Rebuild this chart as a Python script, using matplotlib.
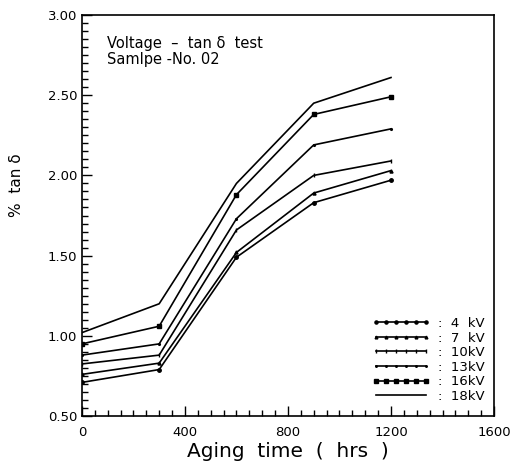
import matplotlib
matplotlib.use("Agg")
import matplotlib.pyplot as plt
from matplotlib.ticker import MultipleLocator

hours = [0, 300, 600, 900, 1200]
labels = [":  4  kV", ":  7  kV", ":  10kV", ":  13kV", ":  16kV", ":  18kV"]
v4 = [0.71, 0.79, 1.49, 1.83, 1.97]
v7 = [0.76, 0.83, 1.52, 1.89, 2.03]
v10 = [0.825, 0.88, 1.66, 2.00, 2.09]
v13 = [0.88, 0.95, 1.73, 2.19, 2.29]
v16 = [0.95, 1.06, 1.88, 2.38, 2.49]
v18 = [1.02, 1.20, 1.95, 2.45, 2.61]
series = [v4, v7, v10, v13, v16, v18]
markers = ["o", "^", "|", ".", "s", None]
msizes = [2.5, 2.2, 3.0, 2.5, 3.5, 0]
xticks = [0, 400, 800, 1200, 1600]
yticks = [0.5, 1.0, 1.5, 2.0, 2.5, 3.0]

fig = plt.figure(figsize=(5.25, 4.67), dpi=100)
ax = fig.add_axes([0.156, 0.109, 0.785, 0.859])

for vals, lab, m, ms in zip(series, labels, markers, msizes):
    ax.plot(hours, vals, color="black", lw=1.2, marker=m, markersize=ms,
            label=lab)

ax.set_xlim(0, 1600)
ax.set_ylim(0.5, 3.0)
ax.set_xticks(xticks)
ax.set_xticklabels([str(t) for t in xticks])
ax.set_yticks(yticks)
ax.set_yticklabels(["%.2f" % t for t in yticks])
ax.xaxis.set_minor_locator(MultipleLocator(50))
ax.yaxis.set_minor_locator(MultipleLocator(0.05))
ax.tick_params(which="both", direction="in", top=False, right=False,
               labelsize=9.5, width=1.0)
ax.tick_params(which="major", length=7)
ax.tick_params(which="minor", length=4)
ax.tick_params(axis="x", which="major", pad=7)
for s in ax.spines.values():
    s.set_linewidth(1.2)

ax.set_xlabel("Aging  time  (  hrs  )", fontsize=14.5)
ax.xaxis.set_label_coords(0.5, -0.065)
ax.set_ylabel("%  tan δ", fontsize=11)
ax.yaxis.set_label_coords(-0.14, 0.575)

ax.text(0.06, 0.93, "Voltage  –  tan δ  test", transform=ax.transAxes,
        fontsize=10.5, va="center", ha="left")
ax.text(0.06, 0.888, "Samlpe -No. 02", transform=ax.transAxes,
        fontsize=10.5, va="center", ha="left")

ax.legend(loc="lower right", bbox_to_anchor=(1.0, 0.01), frameon=False,
          fontsize=9.5, handlelength=4.4, numpoints=6, labelspacing=0.12,
          handletextpad=0.6, borderpad=0.2, markerscale=0.9)

fig.savefig("out.png", dpi=100)
